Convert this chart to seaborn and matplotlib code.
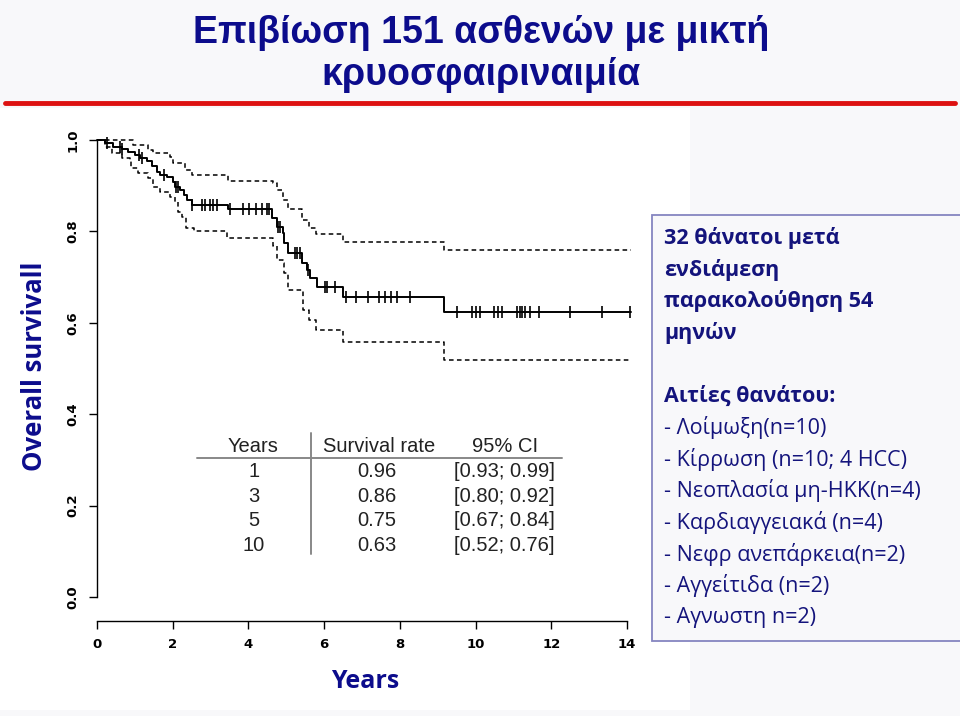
import numpy as np
import seaborn as sns
import matplotlib
matplotlib.use("Agg")
import matplotlib.pyplot as plt
from matplotlib.patches import Rectangle

# Kaplan-Meier estimate (drop times in years, survival after the drop)
km_t = [0, 0.21, 0.43, 0.65, 0.83, 1.00, 1.14, 1.33, 1.44, 1.58, 1.66, 1.84, 2.02, 2.06,
        2.19, 2.30, 2.37, 2.50, 3.47, 4.61, 4.75, 4.90, 4.94, 5.05, 5.41, 5.54, 5.63, 5.80,
        6.51, 9.17, 14.1]
km_s = [1.0, 0.993, 0.985, 0.980, 0.973, 0.967, 0.960, 0.953, 0.943, 0.931, 0.923, 0.918,
        0.909, 0.898, 0.891, 0.880, 0.869, 0.858, 0.848, 0.829, 0.810, 0.796, 0.774, 0.752,
        0.730, 0.716, 0.697, 0.679, 0.657, 0.624, 0.624]

# 95% CI bounds
up_t = [0, 0.96, 1.36, 1.49, 1.93, 2.02, 2.32, 2.50, 3.47, 4.66, 4.75, 4.90, 5.05, 5.41,
        5.61, 5.78, 6.51, 9.17, 14.1]
up_s = [1.0, 0.989, 0.978, 0.971, 0.963, 0.950, 0.935, 0.923, 0.911, 0.905, 0.891, 0.869,
        0.848, 0.826, 0.807, 0.794, 0.777, 0.759, 0.759]
lo_t = [0, 0.20, 0.39, 0.65, 0.87, 0.91, 1.09, 1.36, 1.49, 1.66, 1.93, 2.06, 2.15, 2.24,
        2.35, 2.55, 3.43, 4.66, 4.75, 4.90, 4.94, 5.05, 5.45, 5.61, 5.78, 6.51, 9.17, 14.1]
lo_s = [1.0, 0.985, 0.971, 0.960, 0.953, 0.938, 0.927, 0.916, 0.898, 0.887, 0.876, 0.865,
        0.843, 0.832, 0.807, 0.800, 0.785, 0.767, 0.738, 0.730, 0.708, 0.672, 0.628, 0.606,
        0.584, 0.559, 0.519, 0.519]

# censored observations (years)
cens_t = [0.26, 0.60, 0.67, 1.11, 1.18, 1.77, 2.08, 2.15, 2.52, 2.77, 2.85, 2.98, 3.07, 3.16,
          3.51, 3.86, 4.02, 4.20, 4.35, 4.48, 4.55, 4.77, 4.84, 5.23, 5.29, 5.36, 5.57,
          6.02, 6.07, 6.29, 6.57, 6.84, 7.17, 7.44, 7.62, 7.77, 7.93, 8.27,
          9.52, 9.91, 10.0, 10.11, 10.49, 10.58, 10.69, 11.09, 11.17, 11.23, 11.31, 11.44,
          11.67, 12.49, 13.34, 14.08]

x_ticks = [0, 2, 4, 6, 8, 10, 12, 14]
y_ticks = [0.0, 0.2, 0.4, 0.6, 0.8, 1.0]

tab_years = ["1", "3", "5", "10"]
tab_rate = ["0.96", "0.86", "0.75", "0.63"]
tab_ci = ["[0.93; 0.99]", "[0.80; 0.92]", "[0.67; 0.84]", "[0.52; 0.76]"]

box_head = ["32 θάνατοι μετά", "ενδιάμεση", "παρακολούθηση 54", "μηνών", "",
            "Αιτίες θανάτου:"]
box_items = ["- Λοίμωξη(n=10)", "- Κίρρωση (n=10; 4 HCC)", "- Νεοπλασία μη-HKK(n=4)",
             "- Καρδιαγγειακά (n=4)", "- Νεφρ ανεπάρκεια(n=2)", "- Αγγείτιδα (n=2)",
             "- Αγνωστη n=2)"]

sns.set_style("white")
plt.rcParams['font.family'] = ['Liberation Sans', 'DejaVu Sans']

W, H = 960, 716
fig = plt.figure(figsize=(W / 100, H / 100), dpi=100, facecolor="#f8f8fa")


def fx(x):
    return x / W


def fy(y):
    return 1 - y / H


# white pasted picture area (behind everything)
fig.patches.append(Rectangle((0, fy(710)), fx(690), fy(108) - fy(710),
                             transform=fig.transFigure, facecolor="white",
                             edgecolor="none", zorder=-5))

navy = "#0c0c8c"
fig.text(fx(481), fy(33), "Επιβίωση 151 ασθενών με μικτή", ha="center", va="center",
         fontsize=27, fontweight="bold", color=navy)
fig.text(fx(481), fy(75), "κρυοσφαιριναιμία", ha="center", va="center",
         fontsize=27, fontweight="bold", color=navy)
fig.add_artist(plt.Line2D([fx(5), fx(955)], [fy(103), fy(103)], transform=fig.transFigure,
                          color="#dd1111", lw=3.5))

ax = fig.add_axes([fx(97), fy(597), fx(530), (597 - 140) / H])
ax.set_facecolor("none")
ax.set_zorder(2)

sns.lineplot(x=up_t, y=up_s, drawstyle="steps-post", color="black", lw=1.1,
             linestyle=(0, (3, 2.2)), ax=ax)
sns.lineplot(x=lo_t, y=lo_s, drawstyle="steps-post", color="black", lw=1.1,
             linestyle=(0, (3, 2.2)), ax=ax)
sns.lineplot(x=km_t, y=km_s, drawstyle="steps-post", color="black", lw=1.4, ax=ax)

idx = np.searchsorted(km_t, cens_t, side="right") - 1
cens_s = np.array(km_s)[idx]
sns.scatterplot(x=cens_t, y=cens_s, marker="|", s=85, color="black", linewidth=1.2, ax=ax)

for art in ax.lines + ax.collections:
    art.set_clip_on(False)

# spines first (moving a spine resets the tick objects)
sns.despine(ax=ax)
ax.spines["bottom"].set_position(("outward", 17))
for sp in ["bottom", "left"]:
    ax.spines[sp].set_color("black")
    ax.spines[sp].set_linewidth(1)

ax.set_xlim(0, 14)
ax.set_ylim(0, 1)
ax.set_xticks(x_ticks)
ax.set_yticks(y_ticks)
ax.set_xticklabels([str(v) for v in x_ticks], fontsize=9.5, fontweight="bold",
                   family="DejaVu Sans")
ax.set_yticklabels([f"{v:.1f}" for v in y_ticks], fontsize=9.5, fontweight="bold",
                   family="DejaVu Sans", rotation=90, va="center")
ax.tick_params(axis="both", direction="out", length=5.5, width=1, color="black", pad=7,
               bottom=True, left=True, labelcolor="black")
ax.set_xlabel("")
ax.set_ylabel("")

fig.text(fx(365), fy(682), "Years", ha="center", va="center", fontsize=18,
         fontweight="bold", color=navy, family=["Open Sans", "DejaVu Sans"])
fig.text(fx(35), fy(366), "Overall survivall", ha="center", va="center", rotation=90,
         fontsize=18.5, fontweight="bold", color=navy, family=["Open Sans", "DejaVu Sans"])

# summary table
tcol = "#222222"
fig.add_artist(plt.Line2D([fx(197), fx(562)], [fy(458), fy(458)], transform=fig.transFigure,
                          color="#888888", lw=1.4))
fig.add_artist(plt.Line2D([fx(311), fx(311)], [fy(433), fy(554)], transform=fig.transFigure,
                          color="#888888", lw=1.4))
for xc, head in zip([253, 379, 505], ["Years", "Survival rate", "95% CI"]):
    fig.text(fx(xc), fy(446), head, ha="center", va="center", fontsize=14.5, color=tcol)
for i, yc in enumerate([471.5, 496, 521, 545.5]):
    fig.text(fx(254), fy(yc), tab_years[i], ha="center", va="center", fontsize=14.5, color=tcol)
    fig.text(fx(377), fy(yc), tab_rate[i], ha="center", va="center", fontsize=14.5, color=tcol)
    fig.text(fx(504), fy(yc), tab_ci[i], ha="center", va="center", fontsize=14.5, color=tcol)

# text box on the right
fig.patches.append(Rectangle((fx(652), fy(641)), fx(320), fy(215) - fy(641),
                             transform=fig.transFigure, facecolor="#f8f8fa",
                             edgecolor="#8585c0", lw=1.3, zorder=1))
box_col = "#14147c"
ypos = 238
for line in box_head:
    fig.text(fx(664), fy(ypos), line, ha="left", va="center", fontsize=15.5,
             fontweight="bold", color=box_col, family=["Open Sans", "DejaVu Sans"])
    ypos += 31.6
for line in box_items:
    fig.text(fx(664), fy(ypos), line, ha="left", va="center", fontsize=15.5,
             color=box_col, family=["Open Sans", "DejaVu Sans"])
    ypos += 31.6

fig.savefig("out.png", dpi=100, facecolor=fig.get_facecolor())
